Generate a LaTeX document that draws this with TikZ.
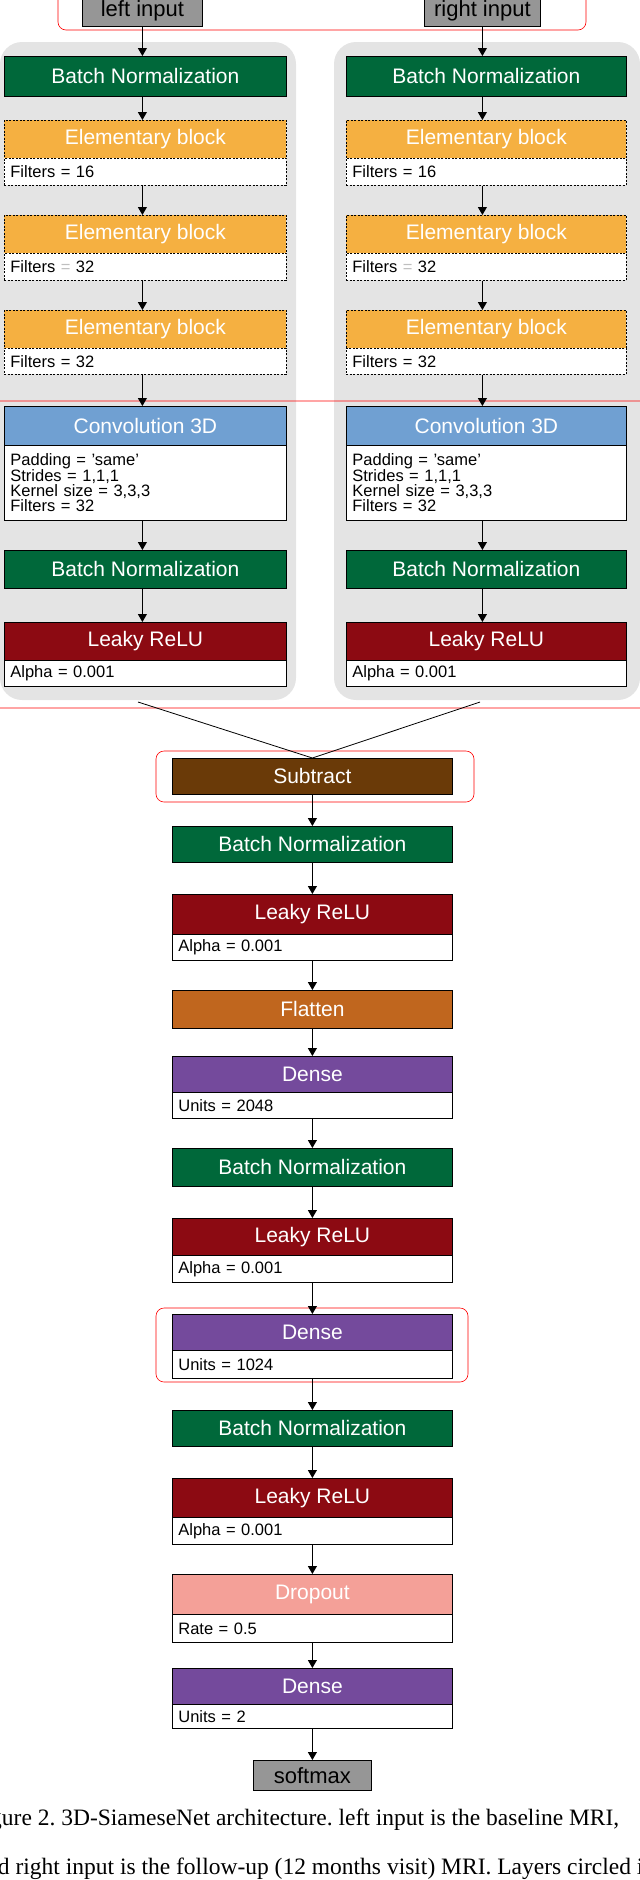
\documentclass[tikz,border=0pt]{standalone}
\usepackage{fontspec}
\setmainfont{Liberation Sans}
\newfontfamily\capfont{Liberation Serif}
\usetikzlibrary{arrows.meta}
\definecolor{bnc}{RGB}{0,104,58}
\definecolor{ebc}{RGB}{245,176,65}
\definecolor{cvc}{RGB}{112,160,210}
\definecolor{lrc}{RGB}{140,10,18}
\definecolor{sbc}{RGB}{106,58,8}
\definecolor{flc}{RGB}{192,102,30}
\definecolor{dnc}{RGB}{116,74,156}
\definecolor{drc}{RGB}{244,160,152}
\definecolor{grc}{RGB}{150,150,150}
\definecolor{pnc}{RGB}{228,228,228}
\newcommand\mybox[7]{\node[#6, anchor=north west, minimum width={(#3-#1)*1pt}, minimum height={(#4-#2)*1pt}, inner sep=0pt] (#5) at (#1,#2) {#7};}
\newcommand\myprm[7]{\node[prm,#6, anchor=north west, text width={(#3-#1-12)*1pt}, minimum height={(#4-#2)*1pt}] (#5) at (#1,#2) {#7};}
\tikzset{
 hdr/.style={draw=black, line width=0.8pt, text=white, font=\fontsize{21}{22}\selectfont},
 inp/.style={draw=black, line width=0.8pt, fill=grc, font=\fontsize{22}{24}\selectfont},
 prm/.style={draw=black, line width=0.8pt, fill=white, align=left, inner xsep=6pt, inner ysep=1pt, font=\fontsize{16.5}{15}\selectfont},
 dsh/.style={dashed, dash pattern=on 2pt off 1.5pt},
 arr/.style={-{Triangle[width=9pt,length=8pt]}, line width=1pt},
 redb/.style={draw=red, line width=0.6pt, rounded corners=8pt},
}
\newcommand\branch[3]{%
 \mybox{#2}{56}{#3}{96}{#1bn}{hdr,fill=bnc}{Batch Normalization}
 \mybox{#2}{120}{#3}{158}{#1e1}{hdr,fill=ebc,dsh}{Elementary block}
 \myprm{#2}{158}{#3}{185}{#1p1}{dsh}{Filters = 16}
 \mybox{#2}{215}{#3}{253}{#1e2}{hdr,fill=ebc,dsh}{Elementary block}
 \myprm{#2}{253}{#3}{280}{#1p2}{dsh}{Filters {\color{black!25}=} 32}
 \mybox{#2}{310}{#3}{348}{#1e3}{hdr,fill=ebc,dsh}{Elementary block}
 \myprm{#2}{348}{#3}{374}{#1p3}{dsh}{Filters = 32}
 \mybox{#2}{406}{#3}{445}{#1cv}{hdr,fill=cvc}{Convolution 3D}
 \myprm{#2}{445}{#3}{520}{#1pc}{}{Padding = 'same'\\Strides = 1,1,1\\Kernel size = 3,3,3\\Filters = 32}
 \mybox{#2}{550}{#3}{588}{#1bb}{hdr,fill=bnc}{Batch Normalization}
 \mybox{#2}{622}{#3}{660}{#1lr}{hdr,fill=lrc}{Leaky ReLU}
 \myprm{#2}{660}{#3}{686}{#1pl}{}{Alpha = 0.001}
 \draw[arr] (#1in.south) -- (#1in.south |- #1bn.north);
 \draw[arr] (#1in.south |- #1bn.south) -- (#1in.south |- #1e1.north);
 \draw[arr] (#1in.south |- #1p1.south) -- (#1in.south |- #1e2.north);
 \draw[arr] (#1in.south |- #1p2.south) -- (#1in.south |- #1e3.north);
 \draw[arr] (#1in.south |- #1p3.south) -- (#1in.south |- #1cv.north);
 \draw[arr] (#1in.south |- #1pc.south) -- (#1in.south |- #1bb.north);
 \draw[arr] (#1in.south |- #1bb.south) -- (#1in.south |- #1lr.north);
}
\begin{document}
\begin{tikzpicture}[x=1pt,y=-1pt]
\useasboundingbox (0,0) rectangle (640,1880);
\begin{scope}
\clip (0,0) rectangle (640,1880);
\fill[pnc, rounded corners=22pt] (0,42) rectangle (296,700);
\fill[pnc, rounded corners=22pt] (334,42) rectangle (640,700);
\draw[redb] (58,-20) rectangle (586,30);
\draw[redb] (-10,401) rectangle (650,708);
\mybox{82}{-5}{202}{26}{lin}{inp}{left input}
\mybox{424}{-5}{540}{26}{rin}{inp}{right input}
\branch{l}{4}{286}
\branch{r}{346}{626}
% merge
\draw[redb] (156,751) rectangle (474,802);
\mybox{172}{758}{452}{794}{sub}{hdr,fill=sbc}{Subtract}
\coordinate (lo) at (138,702);
\coordinate (ro) at (480,702);
\draw[line width=0.8pt] (lo) -- (sub.north);
\draw[line width=0.8pt] (ro) -- (sub.north);
\mybox{172}{826}{452}{862}{c1}{hdr,fill=bnc}{Batch Normalization}
\mybox{172}{894}{452}{934}{c2}{hdr,fill=lrc}{Leaky ReLU}
\myprm{172}{934}{452}{960}{c2p}{}{Alpha = 0.001}
\mybox{172}{990}{452}{1028}{c3}{hdr,fill=flc}{Flatten}
\mybox{172}{1056}{452}{1092}{c4}{hdr,fill=dnc}{Dense}
\myprm{172}{1092}{452}{1118}{c4p}{}{Units = 2048}
\mybox{172}{1148}{452}{1186}{c5}{hdr,fill=bnc}{Batch Normalization}
\mybox{172}{1218}{452}{1255}{c6}{hdr,fill=lrc}{Leaky ReLU}
\myprm{172}{1255}{452}{1282}{c6p}{}{Alpha = 0.001}
\draw[redb] (156,1308) rectangle (468,1382);
\mybox{172}{1314}{452}{1350}{c7}{hdr,fill=dnc}{Dense}
\myprm{172}{1350}{452}{1378}{c7p}{}{Units = 1024}
\mybox{172}{1410}{452}{1446}{c8}{hdr,fill=bnc}{Batch Normalization}
\mybox{172}{1478}{452}{1517}{c9}{hdr,fill=lrc}{Leaky ReLU}
\myprm{172}{1517}{452}{1544}{c9p}{}{Alpha = 0.001}
\mybox{172}{1574}{452}{1614}{c10}{hdr,fill=drc}{Dropout}
\myprm{172}{1614}{452}{1642}{c10p}{}{Rate = 0.5}
\mybox{172}{1668}{452}{1704}{c11}{hdr,fill=dnc}{Dense}
\myprm{172}{1704}{452}{1728}{c11p}{}{Units = 2}
\mybox{253}{1760}{371}{1790}{sm}{inp}{softmax}
\draw[arr] (sub.south) -- (c1.north);
\draw[arr] (c1.south) -- (c2.north);
\draw[arr] (c2p.south) -- (c3.north);
\draw[arr] (c3.south) -- (c4.north);
\draw[arr] (c4p.south) -- (c5.north);
\draw[arr] (c5.south) -- (c6.north);
\draw[arr] (c6p.south) -- (c7.north);
\draw[arr] (c7p.south) -- (c8.north);
\draw[arr] (c8.south) -- (c9.north);
\draw[arr] (c9p.south) -- (c10.north);
\draw[arr] (c10p.south) -- (c11.north);
\draw[arr] (c11p.south) -- (sm.north);
\node[anchor=base west, font=\capfont\fontsize{23.5}{25}\selectfont, inner sep=0pt] (cap1) at (-10,1825) {gure 2.\ 3D-SiameseNet architecture.\ left input is the baseline MRI,};
\node[anchor=base west, font=\capfont\fontsize{23.5}{25}\selectfont, inner sep=0pt] (cap2) at (-14,1874) {nd right input is the follow-up (12 months visit) MRI. Layers circled in};
\end{scope}
\end{tikzpicture}
\end{document}
